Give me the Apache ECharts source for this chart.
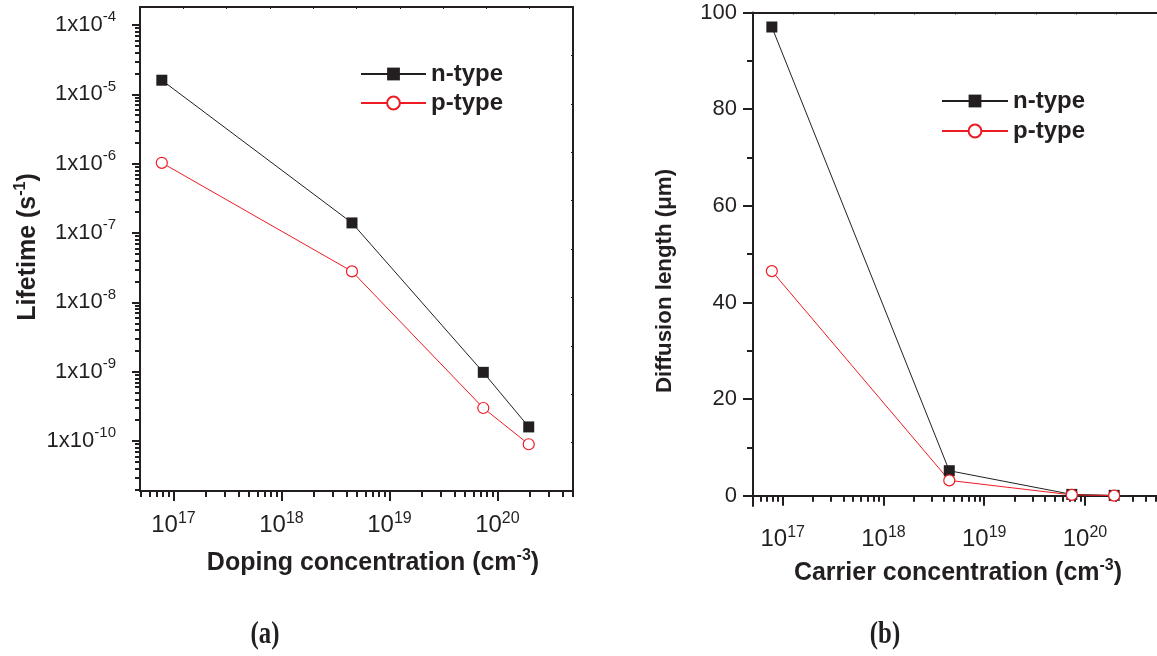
<!DOCTYPE html>
<html>
<head>
<meta charset="utf-8">
<script src="https://cdn.jsdelivr.net/npm/echarts@6/dist/echarts.min.js"></script>
<style>
html,body{margin:0;padding:0;background:#fff;}
#c{width:1157px;height:656px;}
</style>
</head>
<body>
<div id="c"></div>
<script>
// ---- data ----
const concentration = [7.8e16, 4.5e18, 7.4e19, 1.95e20];      // cm^-3
const lifetimeN = [1.6e-5, 1.4e-7, 9.8e-10, 1.6e-10];          // s
const lifetimeP = [1.03e-6, 2.8e-8, 3.0e-10, 9.0e-11];         // s
const diffusionN = [97.0, 5.2, 0.3, 0.1];                      // um
const diffusionP = [46.5, 3.2, 0.2, 0.05];                     // um
const seriesNames = ['n-type', 'p-type'];
// tick labels
const xTickPowers = [17, 18, 19, 20];
const yTickPowers = [-10, -9, -8, -7, -6, -5, -4];
const diffTicks = [0, 20, 40, 60, 80, 100];
const diffMinorTicks = [10, 30, 50, 70, 90];

const BLACK = '#231f20';
const RED = '#ed1c24';
const FONT = '"Liberation Sans", Arial, sans-serif';
const SERIF = 'Liberation Serif';

function pairs(xs, ys) { return xs.map((x, i) => [x, ys[i]]); }
function decades(powers) { return powers.map(p => Math.pow(10, p)); }
function minorLog(pFrom, pTo) {
  const out = [];
  for (let p = pFrom; p <= pTo; p++) for (let k = 2; k <= 9; k++) out.push(k * Math.pow(10, p));
  return out;
}

const xMinL = Math.pow(10, 16.69), xMaxL = Math.pow(10, 20.70);
const yMinL = Math.pow(10, -10.72), yMaxL = Math.pow(10, -3.74);
const xMinR = Math.pow(10, 16.705), xMaxR = Math.pow(10, 20.715);

const axLine = { show: true, lineStyle: { color: BLACK, width: 2 } };
const noLine = { show: false };
const noLabel = { show: false };
const supX = { fontSize: 16, fontFamily: FONT, color: BLACK, padding: [0, 0, 12, 0] };
const baseX = { fontSize: 24, fontFamily: FONT, color: BLACK };
const supY = { fontSize: 15, fontFamily: FONT, color: BLACK, padding: [0, 0, 16, 0] };
const baseY = { fontSize: 22, fontFamily: FONT, color: BLACK };

function powLabel(v) { return '{b|10}{s|' + Math.round(Math.log10(v)) + '}'; }
function powLabelY(v) { return '{b|1x10}{s|' + Math.round(Math.log10(v)) + '}'; }

function frameAxis(grid, pos) {
  return {
    gridIndex: grid, type: 'value', position: pos, min: 0, max: 10, interval: 1,
    axisLine: axLine, axisLabel: noLabel, splitLine: { show: false },
    axisTick: { show: true, inside: true, length: 2, lineStyle: { color: BLACK, width: 1 } }
  };
}

const legendText = { fontSize: 24, fontWeight: 'bold', fontFamily: FONT, color: BLACK, lineHeight: 24 };

const option = {
  animation: false,
  backgroundColor: '#fff',
  grid: [
    { left: 140, top: 7, width: 433, height: 484 },
    { left: 753, top: 12.5, width: 411, height: 493.5 }
  ],
  xAxis: [
    { gridIndex: 0, type: 'log', position: 'bottom', min: xMinL, max: xMaxL,
      axisLine: axLine, splitLine: { show: false },
      axisTick: { show: true, customValues: decades(xTickPowers), length: 10, lineStyle: { color: BLACK, width: 2 } },
      axisLabel: { customValues: decades(xTickPowers), margin: 20, formatter: powLabel, rich: { b: baseX, s: supX } } },
    { gridIndex: 0, type: 'log', position: 'bottom', min: xMinL, max: xMaxL,
      axisLine: noLine, axisLabel: noLabel, splitLine: { show: false },
      axisTick: { show: true, customValues: minorLog(16, 20), length: 6, lineStyle: { color: BLACK, width: 2 } } },
    frameAxis(0, 'top'),
    { gridIndex: 1, type: 'log', position: 'bottom', min: xMinR, max: xMaxR,
      axisLine: axLine, splitLine: { show: false },
      axisTick: { show: true, customValues: decades(xTickPowers), length: 10, lineStyle: { color: BLACK, width: 2 } },
      axisLabel: { customValues: decades(xTickPowers), margin: 19, formatter: powLabel, rich: { b: baseX, s: supX } } },
    { gridIndex: 1, type: 'log', position: 'bottom', min: xMinR, max: xMaxR,
      axisLine: noLine, axisLabel: noLabel, splitLine: { show: false },
      axisTick: { show: true, customValues: minorLog(16, 20), length: 6, lineStyle: { color: BLACK, width: 2 } } },
    frameAxis(1, 'top')
  ],
  yAxis: [
    { gridIndex: 0, type: 'log', position: 'left', min: yMinL, max: yMaxL,
      axisLine: axLine, splitLine: { show: false },
      axisTick: { show: true, customValues: decades(yTickPowers), length: 8, lineStyle: { color: BLACK, width: 2 } },
      axisLabel: { customValues: decades(yTickPowers), margin: 24, formatter: powLabelY, rich: { b: baseY, s: supY } } },
    { gridIndex: 0, type: 'log', position: 'left', min: yMinL, max: yMaxL,
      axisLine: noLine, axisLabel: noLabel, splitLine: { show: false },
      axisTick: { show: true, customValues: minorLog(-11, -4), length: 5, lineStyle: { color: BLACK, width: 2 } } },
    frameAxis(0, 'right'),
    { gridIndex: 1, type: 'value', position: 'left', min: -2.1, max: 100,
      axisLine: axLine, splitLine: { show: false },
      axisTick: { show: true, customValues: diffTicks, length: 10, lineStyle: { color: BLACK, width: 2 } },
      axisLabel: { customValues: diffTicks, margin: 16, fontSize: 22, fontFamily: FONT, color: BLACK } },
    { gridIndex: 1, type: 'value', position: 'left', min: -2.1, max: 100,
      axisLine: noLine, axisLabel: noLabel, splitLine: { show: false },
      axisTick: { show: true, customValues: diffMinorTicks, length: 6, lineStyle: { color: BLACK, width: 2 } } }
  ],
  legend: [
    { left: 355, top: 57, orient: 'vertical', itemWidth: 65, itemHeight: 16, itemGap: 5,
      data: seriesNames, selectedMode: false, textStyle: legendText },
    { left: 936, top: 84, orient: 'vertical', itemWidth: 66, itemHeight: 16, itemGap: 6,
      data: seriesNames, selectedMode: false, textStyle: legendText }
  ],
  series: [
    { name: seriesNames[0], type: 'line', xAxisIndex: 0, yAxisIndex: 0, data: pairs(concentration, lifetimeN),
      symbol: 'rect', symbolSize: 11, lineStyle: { color: BLACK, width: 1 }, itemStyle: { color: BLACK },
      emphasis: { disabled: true } },
    { name: seriesNames[1], type: 'line', xAxisIndex: 0, yAxisIndex: 0, data: pairs(concentration, lifetimeP),
      symbol: 'circle', symbolSize: 11, lineStyle: { color: RED, width: 1 },
      itemStyle: { color: '#fff', borderColor: RED, borderWidth: 1.2 }, emphasis: { disabled: true } },
    { name: seriesNames[0], type: 'line', xAxisIndex: 3, yAxisIndex: 3, data: pairs(concentration, diffusionN),
      symbol: 'rect', symbolSize: 11, lineStyle: { color: BLACK, width: 1 }, itemStyle: { color: BLACK },
      emphasis: { disabled: true } },
    { name: seriesNames[1], type: 'line', xAxisIndex: 3, yAxisIndex: 3, data: pairs(concentration, diffusionP),
      symbol: 'circle', symbolSize: 11, lineStyle: { color: RED, width: 1 },
      itemStyle: { color: '#fff', borderColor: RED, borderWidth: 1.2 }, emphasis: { disabled: true } }
  ],
  graphic: [
    mkText('Doping concentration (cm{s|-3})', 373, 563, 0, 25),
    mkText('Carrier concentration (cm{s|-3})', 958, 573, 0, 25),
    mkText('Lifetime (s{s|-1})', 28, 247, Math.PI / 2, 25),
    mkText('Diffusion length (μm)', 665, 281, Math.PI / 2, 22.3),
    capText('(a)', 265, 635),
    capText('(b)', 885, 635)
  ]
};

function capText(t, x, y) {
  return { type: 'text', x: x, y: y, scaleX: 0.8, scaleY: 1,
    style: { text: t, fontSize: 31, fontWeight: 'bold', fontFamily: SERIF, fill: BLACK,
      align: 'center', verticalAlign: 'middle', textAlign: 'center', textVerticalAlign: 'middle' } };
}

function mkText(t, x, y, rot, size) {
  return {
    type: 'text', x: x, y: y, rotation: rot,
    style: {
      text: t, fontSize: size, fontWeight: 'bold', fontFamily: FONT, fill: BLACK,
      align: 'center', verticalAlign: 'middle', textAlign: 'center', textVerticalAlign: 'middle',
      rich: { s: { fontSize: 16, fontWeight: 'bold', fontFamily: FONT, fill: BLACK, padding: [0, 0, 14, 0] } }
    }
  };
}

const chart = echarts.init(document.getElementById('c'), null, { renderer: 'canvas' });
chart.setOption(option);
</script>
</body>
</html>
